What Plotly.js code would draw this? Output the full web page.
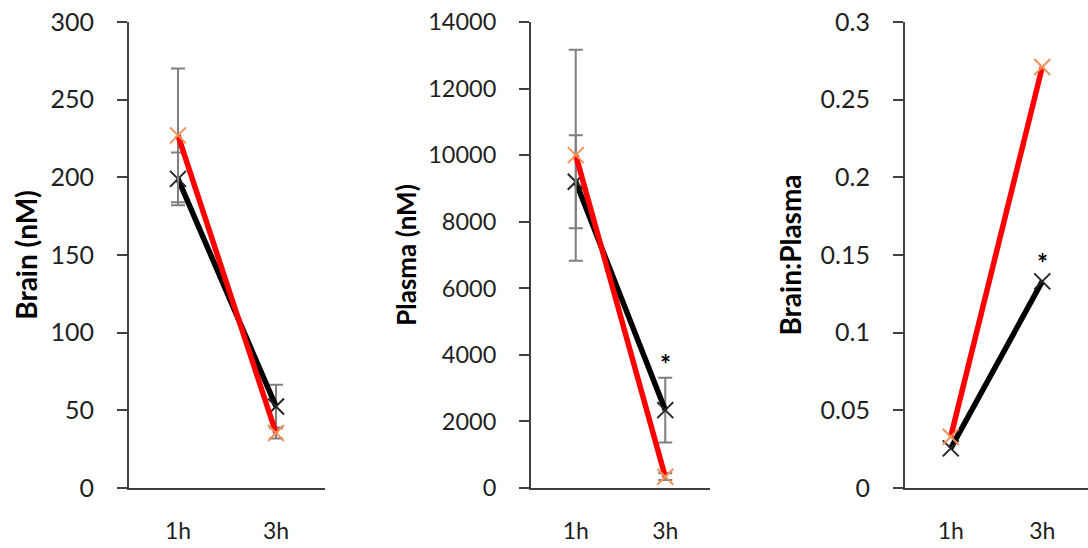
<!DOCTYPE html>
<html>
<head>
<meta charset="utf-8">
<script src="https://cdn.plot.ly/plotly-3.0.1.min.js"></script>
<style>
  html, body { margin: 0; padding: 0; background: #ffffff; }
  #chart { width: 1088px; height: 548px; }
</style>
</head>
<body>
<div id="chart"></div>
<script>
// ---- data ----
const times = ['1h', '3h'];

const brainRed = [227, 35.4];
const brainRedErr = [43, 3.5];
const brainBlack = [199, 52.5];
const brainBlackErr = [17, 14];

const plasmaRed = [10000, 340];
const plasmaRedErr = [3170, 100];
const plasmaBlack = [9200, 2340];
const plasmaBlackErr = [1400, 970];

const ratioRed = [0.033, 0.271];
const ratioBlack = [0.0255, 0.133];

const yTitles = ['Brain (nM)', 'Plasma (nM)', 'Brain:Plasma'];

// ---- styles ----
const RED = '#ff0000', BLACK = '#000000';
const RED_MK = '#f4915a', BLACK_MK = '#262626';
const AXIS = '#404040', TXT = '#1f1f1f';
const FONT = 'Lato, "Open Sans", sans-serif';

function series(x, y, err, lineColor, mkColor, xa, ya) {
  const t = {
    type: 'scatter', mode: 'lines+markers', x: x, y: y,
    xaxis: xa, yaxis: ya, showlegend: false, cliponaxis: false,
    line: { color: lineColor, width: 5.5 },
    marker: { symbol: 'x-thin-open', size: 16, color: mkColor, line: { color: mkColor, width: 2 } }
  };
  if (err) {
    t.error_y = { type: 'data', array: err, visible: true, color: '#7f7f7f', thickness: 2, width: 7 };
  }
  return t;
}

const data = [
  series(times, brainBlack, brainBlackErr, BLACK, BLACK_MK, 'x', 'y'),
  series(times, brainRed, brainRedErr, RED, RED_MK, 'x', 'y'),
  series(times, plasmaBlack, plasmaBlackErr, BLACK, BLACK_MK, 'x2', 'y2'),
  series(times, plasmaRed, plasmaRedErr, RED, RED_MK, 'x2', 'y2'),
  series(times, ratioBlack, null, BLACK, BLACK_MK, 'x3', 'y3'),
  series(times, ratioRed, null, RED, RED_MK, 'x3', 'y3')
];

const yDom = [60 / 548, 526 / 548];

function xAxis(dom, anchor, fs) {
  return {
    domain: dom, anchor: anchor, type: 'category', range: [-0.5, 1.5],
    showline: true, linecolor: AXIS, linewidth: 2, ticks: '', showgrid: false,
    zeroline: false, fixedrange: true, ticklabelstandoff: 21,
    tickfont: { family: FONT, size: fs, color: TXT }
  };
}
function yAxis(anchor, range, dtick, fmt, title, fs, tfs, standoff) {
  return {
    domain: yDom, anchor: anchor, range: range, dtick: dtick, tick0: 0,
    tickformat: fmt, showline: true, linecolor: AXIS, linewidth: 2,
    ticks: 'outside', ticklen: 10, tickwidth: 2, tickcolor: AXIS,
    showgrid: false, zeroline: false, fixedrange: true, ticklabelstandoff: 18,
    tickfont: { family: FONT, size: fs, color: TXT },
    title: { text: title, font: { family: FONT, size: tfs, color: '#000', weight: 'bold' }, standoff: standoff }
  };
}

const layout = {
  width: 1088, height: 548,
  margin: { l: 0, r: 0, t: 0, b: 0 },
  paper_bgcolor: '#ffffff', plot_bgcolor: '#ffffff',
  showlegend: false,
  xaxis: xAxis([129 / 1088, 325 / 1088], 'y', 23),
  yaxis: yAxis('x', [0, 300], 50, '', yTitles[0], 25, 28, 5),
  xaxis2: xAxis([531 / 1088, 710 / 1088], 'y2', 23),
  yaxis2: yAxis('x2', [0, 14000], 2000, 'd', yTitles[1], 23.5, 26, 4),
  xaxis3: xAxis([905 / 1088, 1], 'y3', 23),
  yaxis3: yAxis('x3', [0, 0.3], 0.05, '', yTitles[2], 25, 28, 11),
  annotations: [
    { xref: 'x2', yref: 'y2', x: times[1], y: plasmaBlack[1] + plasmaBlackErr[1],
      text: '*', showarrow: false, yanchor: 'bottom', yshift: -4,
      font: { family: FONT, size: 26, color: '#000', weight: 'bold' } },
    { xref: 'x3', yref: 'y3', x: times[1], y: ratioBlack[1],
      text: '*', showarrow: false, yanchor: 'bottom', yshift: 0,
      font: { family: FONT, size: 26, color: '#000', weight: 'bold' } }
  ]
};

Plotly.newPlot('chart', data, layout, { staticPlot: true, displayModeBar: false });
</script>
</body>
</html>
